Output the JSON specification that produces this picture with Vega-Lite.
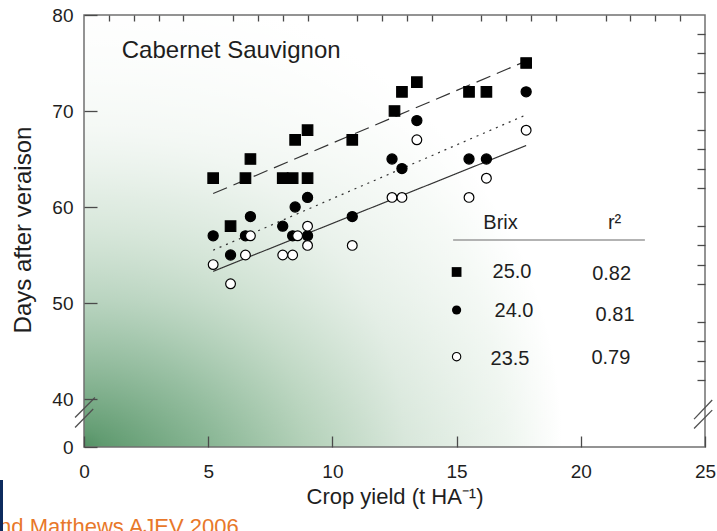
{
  "$schema": "https://vega.github.io/schema/vega-lite/v6.json",
  "width": 621,
  "height": 432,
  "autosize": {"type": "none"},
  "padding": {"left": 84, "top": 15, "right": 12, "bottom": 84},
  "background": "#ffffff",
  "config": {
    "view": {"stroke": null},
    "font": "Liberation Sans",
    "axis": {"grid": false, "domain": false, "labelFont": "Liberation Sans", "titleFont": "Liberation Sans", "labelColor": "#1e1e1e", "titleColor": "#1e1e1e", "labelFontSize": 19, "titleFontWeight": "normal", "tickColor": "#4a4a4a", "tickWidth": 1.3, "labelFlush": false, "labelOverlap": false}
  },
  "resolve": {"axis": {"x": "independent", "y": "independent"}},
  "datasets": {
    "obs": [
      {"brix": "25.0", "yield": 5.2, "days": 63}, {"brix": "25.0", "yield": 5.9, "days": 58}, {"brix": "25.0", "yield": 6.5, "days": 63}, {"brix": "25.0", "yield": 6.7, "days": 65},
      {"brix": "25.0", "yield": 8.0, "days": 63}, {"brix": "25.0", "yield": 8.4, "days": 63}, {"brix": "25.0", "yield": 9.0, "days": 63}, {"brix": "25.0", "yield": 8.5, "days": 67},
      {"brix": "25.0", "yield": 9.0, "days": 68}, {"brix": "25.0", "yield": 10.8, "days": 67}, {"brix": "25.0", "yield": 12.5, "days": 70}, {"brix": "25.0", "yield": 12.8, "days": 72},
      {"brix": "25.0", "yield": 13.4, "days": 73}, {"brix": "25.0", "yield": 15.5, "days": 72}, {"brix": "25.0", "yield": 16.2, "days": 72}, {"brix": "25.0", "yield": 17.8, "days": 75},
      {"brix": "24.0", "yield": 5.2, "days": 57}, {"brix": "24.0", "yield": 5.9, "days": 55}, {"brix": "24.0", "yield": 6.5, "days": 57}, {"brix": "24.0", "yield": 6.7, "days": 59},
      {"brix": "24.0", "yield": 8.0, "days": 58}, {"brix": "24.0", "yield": 8.5, "days": 60}, {"brix": "24.0", "yield": 8.4, "days": 57}, {"brix": "24.0", "yield": 9.0, "days": 61},
      {"brix": "24.0", "yield": 9.0, "days": 57}, {"brix": "24.0", "yield": 10.8, "days": 59}, {"brix": "24.0", "yield": 12.4, "days": 65}, {"brix": "24.0", "yield": 12.8, "days": 64},
      {"brix": "24.0", "yield": 13.4, "days": 69}, {"brix": "24.0", "yield": 15.5, "days": 65}, {"brix": "24.0", "yield": 16.2, "days": 65}, {"brix": "24.0", "yield": 17.8, "days": 72},
      {"brix": "23.5", "yield": 5.2, "days": 54}, {"brix": "23.5", "yield": 5.9, "days": 52}, {"brix": "23.5", "yield": 6.5, "days": 55}, {"brix": "23.5", "yield": 6.7, "days": 57},
      {"brix": "23.5", "yield": 8.0, "days": 55}, {"brix": "23.5", "yield": 8.4, "days": 55}, {"brix": "23.5", "yield": 8.6, "days": 57}, {"brix": "23.5", "yield": 9.0, "days": 58},
      {"brix": "23.5", "yield": 9.0, "days": 56}, {"brix": "23.5", "yield": 10.8, "days": 56}, {"brix": "23.5", "yield": 12.4, "days": 61}, {"brix": "23.5", "yield": 12.8, "days": 61},
      {"brix": "23.5", "yield": 13.4, "days": 67}, {"brix": "23.5", "yield": 15.5, "days": 61}, {"brix": "23.5", "yield": 16.2, "days": 63}, {"brix": "23.5", "yield": 17.8, "days": 68}
    ],
    "fits": [
      {"brix": "25.0", "yield": 5.2, "days": 61.4}, {"brix": "25.0", "yield": 17.8, "days": 75.2},
      {"brix": "24.0", "yield": 5.2, "days": 55.5}, {"brix": "24.0", "yield": 17.8, "days": 69.6},
      {"brix": "23.5", "yield": 5.2, "days": 53.3}, {"brix": "23.5", "yield": 17.8, "days": 66.4}
    ],
    "breaks": [
      {"yield": -0.36, "days": 38.07, "yield2": 0.44, "days2": 40.16},
      {"yield": -0.36, "days": 37.03, "yield2": 0.37, "days2": 38.95},
      {"yield": 24.56, "days": 37.9, "yield2": 25.29, "days2": 39.89},
      {"yield": 24.56, "days": 36.92, "yield2": 25.29, "days2": 38.84}
    ]
  },
  "layer": [
    {
      "data": {"values": [{}]},
      "mark": {"type": "rect", "stroke": null, "fill": {"gradient": "radial", "x1": 0, "y1": 0.848, "r1": 0, "x2": 0, "y2": 0.848, "r2": 0.77, "stops": [
        {"offset": 0, "color": "#488a5b"}, {"offset": 0.04, "color": "#559466"}, {"offset": 0.246, "color": "#7daf8a"},
        {"offset": 0.458, "color": "#adcdb3"}, {"offset": 0.67, "color": "#d5e5d8"}, {"offset": 0.88, "color": "#ecf4ed"}, {"offset": 1, "color": "#ffffff"}]}},
      "encoding": {
        "x": {"datum": 0, "type": "quantitative", "scale": {"domain": [0, 25], "nice": false, "zero": false},
          "axis": {"values": [0, 5, 10, 15, 20, 25], "tickSize": -11, "labelPadding": 26, "zindex": 2, "title": "Crop yield (t HA⁻¹)", "titleFontSize": 22, "titleY": 56, "titleBaseline": "alphabetic"}},
        "x2": {"datum": 25},
        "y": {"datum": 35, "type": "quantitative", "scale": {"domain": [35, 80], "nice": false, "zero": false},
          "axis": {"values": [35, 40, 50, 60, 70, 80], "labelExpr": "datum.value == 35 ? '0' : datum.label", "tickSize": -13, "labelPadding": 24, "zindex": 2, "title": "Days after veraison", "titleFontSize": 24, "titleAngle": 270, "titleBaseline": "alphabetic", "titleX": -54, "titleY": 214.5}},
        "y2": {"datum": 80}
      }
    },
    {
      "data": {"values": [{}]},
      "mark": {"type": "rect", "stroke": null, "fill": {"gradient": "linear", "x1": 0, "y1": 0, "x2": 0, "y2": 1, "stops": [
        {"offset": 0, "color": "rgba(255,255,255,0.95)"}, {"offset": 0.27, "color": "rgba(255,255,255,0.74)"}, {"offset": 0.43, "color": "rgba(255,255,255,0.57)"},
        {"offset": 0.66, "color": "rgba(255,255,255,0.4)"}, {"offset": 0.89, "color": "rgba(255,255,255,0.17)"}, {"offset": 1, "color": "rgba(255,255,255,0.06)"}]}},
      "encoding": {"x": {"datum": 0, "type": "quantitative", "axis": null}, "x2": {"datum": 25}, "y": {"datum": 35, "type": "quantitative", "axis": null}, "y2": {"datum": 80}}
    },
    {
      "data": {"values": [{}]},
      "mark": {"type": "rect", "filled": false, "color": "#707070", "strokeWidth": 1.5},
      "encoding": {"x": {"datum": 0, "type": "quantitative", "axis": null}, "x2": {"datum": 25}, "y": {"datum": 35, "type": "quantitative", "axis": null}, "y2": {"datum": 80}}
    },
    {
      "data": {"name": "fits"},
      "mark": {"type": "line", "color": "#333333", "strokeWidth": 1.2},
      "encoding": {
        "x": {"field": "yield", "type": "quantitative", "axis": {"values": [1, 2, 3, 4, 6, 7, 8, 9, 11, 12, 13, 14, 16, 17, 18, 19, 21, 22, 23, 24], "tickSize": -6, "labels": false, "title": null, "zindex": 2}},
        "y": {"field": "days", "type": "quantitative", "axis": {"values": [42, 44, 46, 48, 52, 54, 56, 58, 62, 64, 66, 68, 72, 74, 76, 78], "tickSize": -8, "labels": false, "title": null, "zindex": 2}},
        "strokeDash": {"field": "brix", "type": "nominal", "scale": {"domain": ["25.0", "24.0", "23.5"], "range": [[15, 7], [2, 5], [1, 0]]}, "legend": null}
      }
    },
    {
      "data": {"name": "obs"},
      "mark": {"type": "point", "strokeWidth": 1.2, "opacity": 1},
      "encoding": {
        "x": {"field": "yield", "type": "quantitative", "axis": null},
        "y": {"field": "days", "type": "quantitative", "axis": null},
        "shape": {"field": "brix", "type": "nominal", "scale": {"domain": ["25.0", "24.0", "23.5"], "range": ["square", "circle", "circle"]}, "legend": null},
        "fill": {"field": "brix", "type": "nominal", "scale": {"domain": ["25.0", "24.0", "23.5"], "range": ["#000000", "#000000", "#ffffff"]}, "legend": null},
        "stroke": {"value": "#000000"},
        "size": {"field": "brix", "type": "ordinal", "scale": {"domain": ["25.0", "24.0", "23.5"], "range": [110, 95, 85]}, "legend": null}
      }
    },
    {
      "data": {"values": [{}]},
      "mark": {"type": "rule", "color": "#9a9a9a", "strokeWidth": 1.5},
      "encoding": {"x": {"datum": 14.86, "type": "quantitative", "axis": null}, "x2": {"datum": 22.58}, "y": {"datum": 56.56, "type": "quantitative", "axis": null}}
    },
    {"data": {"values": [{}]}, "mark": {"type": "text", "text": "Brix", "fontSize": 20, "align": "center", "baseline": "alphabetic", "color": "#1e1e1e"},
      "encoding": {"x": {"datum": 16.77, "type": "quantitative", "axis": null}, "y": {"datum": 57.71, "type": "quantitative", "axis": null}}},
    {"data": {"values": [{}]}, "mark": {"type": "text", "text": "r²", "fontSize": 20, "align": "center", "baseline": "alphabetic", "color": "#1e1e1e"},
      "encoding": {"x": {"datum": 21.36, "type": "quantitative", "axis": null}, "y": {"datum": 57.71, "type": "quantitative", "axis": null}}},
    {"data": {"values": [{}]}, "mark": {"type": "point", "shape": "square", "filled": true, "color": "#000000", "size": 95, "opacity": 1},
      "encoding": {"x": {"datum": 15.0, "type": "quantitative", "axis": null}, "y": {"datum": 53.23, "type": "quantitative", "axis": null}}},
    {"data": {"values": [{}]}, "mark": {"type": "point", "shape": "circle", "filled": true, "color": "#000000", "size": 85, "opacity": 1},
      "encoding": {"x": {"datum": 15.0, "type": "quantitative", "axis": null}, "y": {"datum": 49.27, "type": "quantitative", "axis": null}}},
    {"data": {"values": [{}]}, "mark": {"type": "point", "shape": "circle", "fill": "#ffffff", "stroke": "#000000", "strokeWidth": 1.1, "size": 70, "opacity": 1},
      "encoding": {"x": {"datum": 15.0, "type": "quantitative", "axis": null}, "y": {"datum": 44.41, "type": "quantitative", "axis": null}}},
    {"data": {"values": [{}]}, "mark": {"type": "text", "text": "25.0", "fontSize": 20, "align": "center", "baseline": "alphabetic", "color": "#1e1e1e"},
      "encoding": {"x": {"datum": 17.23, "type": "quantitative", "axis": null}, "y": {"datum": 52.6, "type": "quantitative", "axis": null}}},
    {"data": {"values": [{}]}, "mark": {"type": "text", "text": "0.82", "fontSize": 20, "align": "center", "baseline": "alphabetic", "color": "#1e1e1e"},
      "encoding": {"x": {"datum": 21.24, "type": "quantitative", "axis": null}, "y": {"datum": 52.4, "type": "quantitative", "axis": null}}},
    {"data": {"values": [{}]}, "mark": {"type": "text", "text": "24.0", "fontSize": 20, "align": "center", "baseline": "alphabetic", "color": "#1e1e1e"},
      "encoding": {"x": {"datum": 17.31, "type": "quantitative", "axis": null}, "y": {"datum": 48.57, "type": "quantitative", "axis": null}}},
    {"data": {"values": [{}]}, "mark": {"type": "text", "text": "0.81", "fontSize": 20, "align": "center", "baseline": "alphabetic", "color": "#1e1e1e"},
      "encoding": {"x": {"datum": 21.38, "type": "quantitative", "axis": null}, "y": {"datum": 48.16, "type": "quantitative", "axis": null}}},
    {"data": {"values": [{}]}, "mark": {"type": "text", "text": "23.5", "fontSize": 20, "align": "center", "baseline": "alphabetic", "color": "#1e1e1e"},
      "encoding": {"x": {"datum": 17.15, "type": "quantitative", "axis": null}, "y": {"datum": 43.54, "type": "quantitative", "axis": null}}},
    {"data": {"values": [{}]}, "mark": {"type": "text", "text": "0.79", "fontSize": 20, "align": "center", "baseline": "alphabetic", "color": "#1e1e1e"},
      "encoding": {"x": {"datum": 21.21, "type": "quantitative", "axis": null}, "y": {"datum": 43.61, "type": "quantitative", "axis": null}}},
    {"data": {"values": [{}]}, "mark": {"type": "text", "text": "Cabernet Sauvignon", "fontSize": 24, "align": "left", "baseline": "alphabetic", "color": "#1e1e1e"},
      "encoding": {"x": {"datum": 1.52, "type": "quantitative", "axis": null}, "y": {"datum": 75.49, "type": "quantitative", "axis": null}}},
    {
      "data": {"name": "breaks"},
      "mark": {"type": "rule", "color": "#505050", "strokeWidth": 1.3},
      "encoding": {"x": {"field": "yield", "type": "quantitative", "axis": null}, "y": {"field": "days", "type": "quantitative", "axis": null}, "x2": {"field": "yield2"}, "y2": {"field": "days2"}}
    },
    {"data": {"values": [{}]}, "mark": {"type": "text", "text": "nd Matthews AJEV 2006", "fontSize": 22, "align": "left", "baseline": "alphabetic", "color": "#e8782a"},
      "encoding": {"x": {"datum": -3.42, "type": "quantitative", "axis": null}, "y": {"datum": 25.9, "type": "quantitative", "axis": null}}},
    {"data": {"values": [{}]}, "mark": {"type": "rect", "color": "#0d2b5e"},
      "encoding": {"x": {"datum": -3.382, "type": "quantitative", "axis": null}, "x2": {"datum": -3.261}, "y": {"datum": 31.56, "type": "quantitative", "axis": null}, "y2": {"datum": 26.25}}}
  ]
}
